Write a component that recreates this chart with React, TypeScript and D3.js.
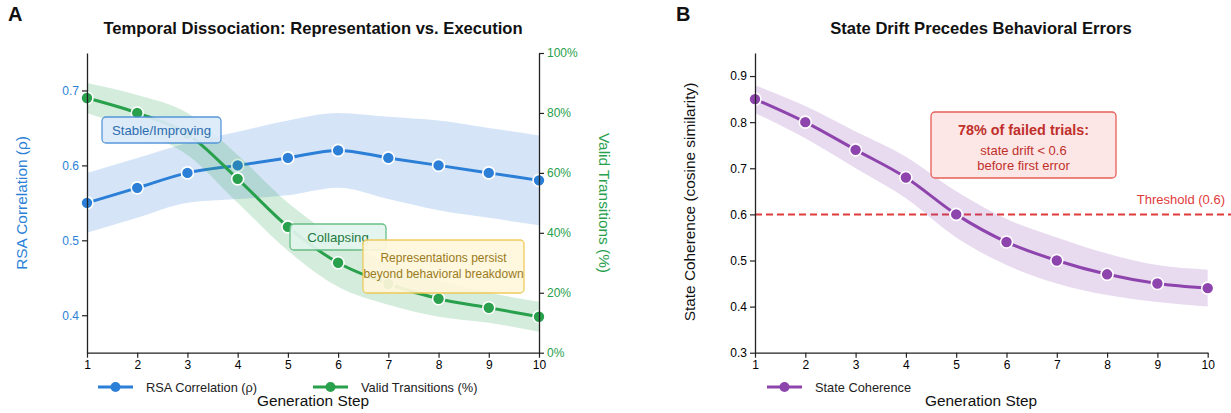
import React, { useRef, useEffect } from 'react';
import * as d3 from 'd3';

// data
const steps = [1, 2, 3, 4, 5, 6, 7, 8, 9, 10];
const rsa = [0.55, 0.57, 0.59, 0.60, 0.61, 0.62, 0.61, 0.60, 0.59, 0.58];
const rsaErr = [0.04, 0.04, 0.04, 0.045, 0.05, 0.05, 0.055, 0.06, 0.06, 0.06];
const validPct = [85, 80, 73, 58, 42, 30, 23, 18, 15, 12];
const validErr = [5, 6, 7, 8, 8, 8, 7, 6, 5, 5];
const coherence = [0.85, 0.80, 0.74, 0.68, 0.60, 0.54, 0.50, 0.47, 0.45, 0.44];
const coherenceErr = [0.03, 0.035, 0.04, 0.045, 0.05, 0.05, 0.05, 0.045, 0.04, 0.04];
const rsaTicks = [0.4, 0.5, 0.6, 0.7];
const pctTicks = [0, 20, 40, 60, 80, 100];
const cohTicks = [0.3, 0.4, 0.5, 0.6, 0.7, 0.8, 0.9];
const threshold = 0.6;

const BLUE = '#2b7fd6';
const GREEN = '#28a04c';
const PURPLE = '#8e44ad';
const RED = '#e03a3a';
const FONT = '"Liberation Sans", Arial, Helvetica, sans-serif';

const App = () => {
  const ref = useRef<SVGSVGElement>(null);

  useEffect(() => {
    const svg = d3.select(ref.current);
    svg.selectAll('*').remove();
    svg.style('font-family', FONT);

    const drawAxisStyle = (g: any) => {
      g.select('.domain').attr('stroke', '#222').attr('stroke-width', 1.3);
      g.selectAll('.tick line').attr('stroke', '#222').attr('stroke-width', 1.2);
      g.selectAll('.tick text').style('font-size', '12px').style('font-family', FONT);
    };

    const drawSeries = (g: any, x: any, y: any, vals: number[], errs: number[], color: string) => {
      const area = d3.area<number>()
        .x((d, i) => x(steps[i]))
        .y0((d, i) => y(vals[i] - errs[i]))
        .y1((d, i) => y(vals[i] + errs[i]))
        .curve(d3.curveMonotoneX);
      g.append('path').attr('d', area(vals)).attr('fill', color).attr('opacity', 0.2);
      const line = d3.line<number>()
        .x((d, i) => x(steps[i]))
        .y(d => y(d))
        .curve(d3.curveMonotoneX);
      g.append('path').attr('d', line(vals)).attr('fill', 'none').attr('stroke', color).attr('stroke-width', 3);
      g.selectAll('.pt').data(vals).enter().append('circle')
        .attr('cx', (d: number, i: number) => x(steps[i]))
        .attr('cy', (d: number) => y(d))
        .attr('r', 6)
        .attr('fill', color)
        .attr('stroke', 'white')
        .attr('stroke-width', 1.6);
    };

    const legendItem = (x0: number, yy: number, color: string, label: string) => {
      svg.append('line').attr('x1', x0).attr('x2', x0 + 35).attr('y1', yy).attr('y2', yy)
        .attr('stroke', color).attr('stroke-width', 3);
      svg.append('circle').attr('cx', x0 + 17.5).attr('cy', yy).attr('r', 5).attr('fill', color);
      svg.append('text').attr('x', x0 + 48).attr('y', yy + 4.5).text(label)
        .style('font-size', '12.8px').attr('fill', '#222');
    };

    const box = (x0: number, y0: number, w: number, h: number, fill: string, stroke: string) => {
      svg.append('rect').attr('x', x0).attr('y', y0).attr('width', w).attr('height', h)
        .attr('rx', 4).attr('fill', fill).attr('stroke', stroke).attr('stroke-width', 1.3).attr('opacity', 0.92);
    };

    // ---------- panel A ----------
    const xA = d3.scaleLinear().domain([1, 10]).range([87, 539]);
    const yA = d3.scaleLinear().domain([0.35, 0.75]).range([352.7, 53]);
    const yA2 = d3.scaleLinear().domain([0, 100]).range([352.7, 53]);

    const gA = svg.append('g');
    drawSeries(gA, xA, yA, rsa, rsaErr, BLUE);
    drawSeries(gA, xA, yA2, validPct, validErr, GREEN);

    const axA = svg.append('g').attr('transform', 'translate(0,352.7)')
      .call(d3.axisBottom(xA).tickValues(steps).tickFormat(d3.format('d')).tickSize(5).tickSizeOuter(0));
    drawAxisStyle(axA);
    const ayA = svg.append('g').attr('transform', 'translate(87,0)')
      .call(d3.axisLeft(yA).tickValues(rsaTicks).tickFormat(d3.format('.1f')).tickSize(5).tickSizeOuter(0));
    drawAxisStyle(ayA);
    ayA.selectAll('.tick text').attr('fill', BLUE);
    const ayA2 = svg.append('g').attr('transform', 'translate(539,0)')
      .call(d3.axisRight(yA2).tickValues(pctTicks).tickFormat((d: any) => d + '%').tickSize(5).tickSizeOuter(0));
    drawAxisStyle(ayA2);
    ayA2.selectAll('.tick text').attr('fill', GREEN);

    // annotations A
    box(102, 117, 119, 26, '#dceaf9', '#4a90d9');
    svg.append('text').attr('x', 161.5).attr('y', 135).attr('text-anchor', 'middle')
      .style('font-size', '13.2px').attr('fill', '#2c6db0').text('Stable/Improving');
    box(290, 224, 96, 26, '#e2f5ee', '#5cba7d');
    svg.append('text').attr('x', 338).attr('y', 242).attr('text-anchor', 'middle')
      .style('font-size', '13.2px').attr('fill', '#1e7a3e').text('Collapsing');
    box(363, 240, 161, 53, '#fff7dc', '#f0c850');
    svg.append('text').attr('x', 443.5).attr('y', 262).attr('text-anchor', 'middle')
      .style('font-size', '12px').attr('fill', '#9a7b1c').text('Representations persist');
    svg.append('text').attr('x', 443.5).attr('y', 278).attr('text-anchor', 'middle')
      .style('font-size', '12px').attr('fill', '#9a7b1c').text('beyond behavioral breakdown');

    svg.append('text').attr('x', 313).attr('y', 34).attr('text-anchor', 'middle')
      .style('font-size', '16.6px').style('font-weight', 'bold').attr('fill', '#111')
      .text('Temporal Dissociation: Representation vs. Execution');
    svg.append('text').attr('x', 8).attr('y', 21).style('font-size', '20px').style('font-weight', 'bold')
      .attr('fill', '#111').text('A');
    svg.append('text').attr('transform', 'translate(27,203) rotate(-90)').attr('text-anchor', 'middle')
      .style('font-size', '15.4px').attr('fill', BLUE).text('RSA Correlation (ρ)');
    svg.append('text').attr('transform', 'translate(599,203) rotate(90)').attr('text-anchor', 'middle')
      .style('font-size', '15.4px').attr('fill', GREEN).text('Valid Transitions (%)');
    svg.append('text').attr('x', 313).attr('y', 406).attr('text-anchor', 'middle')
      .style('font-size', '15.4px').attr('fill', '#111').text('Generation Step');
    legendItem(98, 387, BLUE, 'RSA Correlation (ρ)');
    legendItem(313, 387, GREEN, 'Valid Transitions (%)');

    // ---------- panel B ----------
    const xB = d3.scaleLinear().domain([1, 10]).range([755, 1207.7]);
    const yB = d3.scaleLinear().domain([0.3, 0.95]).range([352.7, 53]);

    svg.append('line').attr('x1', 755).attr('x2', 1231).attr('y1', yB(threshold)).attr('y2', yB(threshold))
      .attr('stroke', RED).attr('stroke-width', 2).attr('stroke-dasharray', '7,4');
    svg.append('text').attr('x', 1225).attr('y', yB(threshold) - 10).attr('text-anchor', 'end')
      .style('font-size', '13px').attr('fill', RED).text('Threshold (0.6)');

    const gB = svg.append('g');
    drawSeries(gB, xB, yB, coherence, coherenceErr, PURPLE);

    const axB = svg.append('g').attr('transform', 'translate(0,352.7)')
      .call(d3.axisBottom(xB).tickValues(steps).tickFormat(d3.format('d')).tickSize(5).tickSizeOuter(0));
    drawAxisStyle(axB);
    const ayB = svg.append('g').attr('transform', 'translate(755,0)')
      .call(d3.axisLeft(yB).tickValues(cohTicks).tickFormat(d3.format('.1f')).tickSize(5).tickSizeOuter(0));
    drawAxisStyle(ayB);

    box(931, 112, 185, 66, '#fde4e4', '#e5524a');
    svg.append('text').attr('x', 1023.5).attr('y', 135).attr('text-anchor', 'middle')
      .style('font-size', '14.4px').style('font-weight', 'bold').attr('fill', '#c0302b').text('78% of failed trials:');
    svg.append('text').attr('x', 1023.5).attr('y', 155).attr('text-anchor', 'middle')
      .style('font-size', '13px').attr('fill', '#c0302b').text('state drift < 0.6');
    svg.append('text').attr('x', 1023.5).attr('y', 170).attr('text-anchor', 'middle')
      .style('font-size', '13px').attr('fill', '#c0302b').text('before first error');

    svg.append('text').attr('x', 981).attr('y', 34).attr('text-anchor', 'middle')
      .style('font-size', '16.6px').style('font-weight', 'bold').attr('fill', '#111')
      .text('State Drift Precedes Behavioral Errors');
    svg.append('text').attr('x', 676).attr('y', 21).style('font-size', '20px').style('font-weight', 'bold')
      .attr('fill', '#111').text('B');
    svg.append('text').attr('transform', 'translate(695,202) rotate(-90)').attr('text-anchor', 'middle')
      .style('font-size', '15.4px').attr('fill', '#111').text('State Coherence (cosine similarity)');
    svg.append('text').attr('x', 981).attr('y', 406).attr('text-anchor', 'middle')
      .style('font-size', '15.4px').attr('fill', '#111').text('Generation Step');
    legendItem(767, 387, PURPLE, 'State Coherence');
  }, []);

  return (
    <svg ref={ref} width={1231} height={413}
      style={{ position: 'absolute', left: 0, top: 0, background: 'white' }} />
  );
};

export default App;
